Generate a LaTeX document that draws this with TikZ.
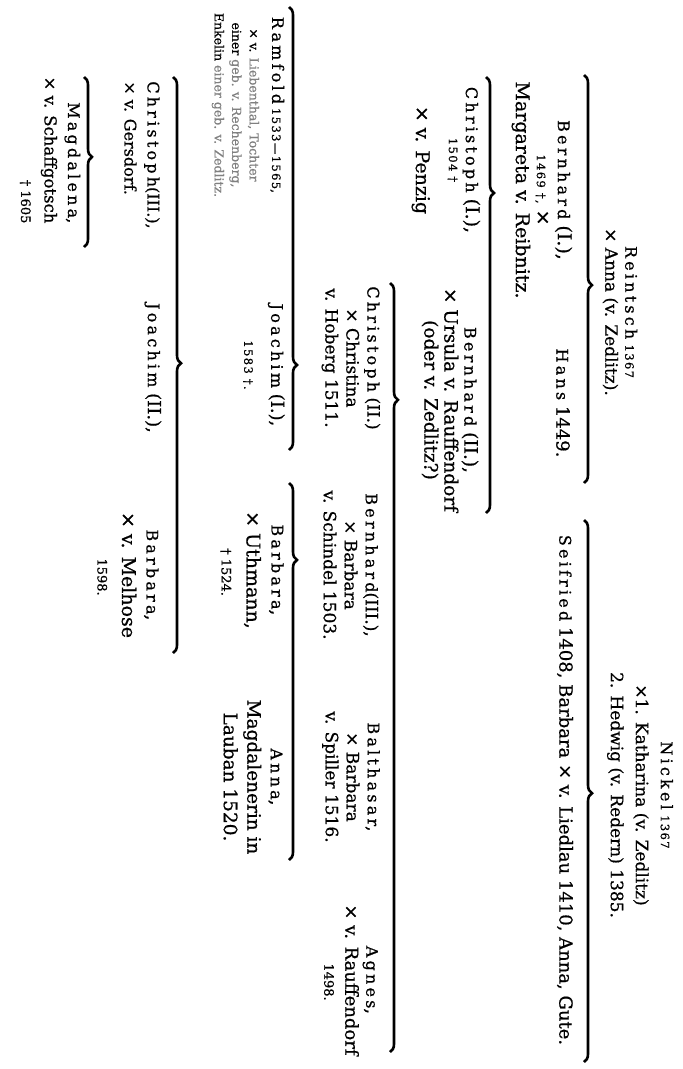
\documentclass[tikz,border=0pt]{standalone}
\usepackage{fontspec}
\setmainfont{DejaVu Serif}[FakeBold=0.7]
\usetikzlibrary{decorations.pathreplacing}
\newcommand\nmz{\fontsize{16}{21}\selectfont\addfontfeatures{LetterSpace=20}}
\newcommand\smz{\fontsize{11.5}{21}\selectfont\addfontfeatures{LetterSpace=12}}
\newcommand\fsz[1]{\fontsize{#1}{21}\selectfont}
\begin{document}
\begin{tikzpicture}[x=1pt,y=-1pt]
\tikzset{
  person/.style={rotate=-90, align=center, inner sep=0pt, font=\fontsize{18}{21}\selectfont},
  famb/.style={decorate, decoration={brace, amplitude=8pt, aspect=#1}, line width=2.6pt},
}
\useasboundingbox (0,0) rectangle (683,1069);
% generation 1
\node[person, font=\fontsize{17}{20}\selectfont] (reintsch) at (620,312) {{\nmz Reintsch} {\smz 1367}\\ × Anna (v. Zedlitz).};
\node[person, font=\fontsize{17}{25}\selectfont] (nickel) at (640,795) {{\nmz Nickel} {\smz 1367}\\ ×1. Katharina (v. Zedlitz)\\ 2. Hedwig (v. Redern) 1385.};
% generation 2
\node[person, font=\fontsize{19}{21}\selectfont] (bernhardI) at (542,190) {{\nmz Bernhard} (I.),\\ {\smz 1469 †,} ×\\ Margareta v. Reibnitz.};
\node[person] (hans) at (563,403) {{\nmz Hans} 1449.};
\node[person] (seifried) at (565,790) {{\nmz Seifried} 1408, Barbara × v. Liedlau 1410, Anna, Gute.};
% generation 3
\node[person, font=\fontsize{19}{17}\selectfont] (christophI) at (446,160) {{\nmz Christoph} (I.),\\ {\smz 1504 †}\\[16pt] × v. Penzig};
\node[person, font=\fontsize{18.5}{20}\selectfont] (bernhardII) at (450,400) {{\nmz Bernhard} (II.),\\ × Ursula v. Rauffendorf\\ (oder v. Zedlitz?)};
% generation 4
\node[person, font=\fontsize{17}{21}\selectfont] (christophII) at (351,358) {{\nmz Christoph} (II.)\\ × Christina\\ v. Hoberg 1511.};
\node[person, font=\fontsize{17}{21}\selectfont] (bernhardIII) at (351,565) {{\nmz Bernhard}(III.),\\ × Barbara\\ v. Schindel 1503.};
\node[person, font=\fontsize{17}{21}\selectfont] (balthasar) at (351,777) {{\nmz Balthasar},\\ × Barbara\\ v. Spiller 1516.};
\node[person, font=\fontsize{18}{21}\selectfont] (agnes) at (351,980) {{\nmz Agnes},\\ × v. Rauffendorf\\ {\fsz{13} 1498.}};
% generation 5
\node[person, font=\fontsize{12.5}{17.5}\selectfont] (ramfold) at (248,105) {{\nmz Ramfold} {\smz 1533—1565},\\[5pt] × v. \textcolor{gray}{Liebenthal, Tochter}\\ einer \textcolor{gray}{geb. v. Rechenberg,}\\ Enkelin \textcolor{gray}{einer geb. v. Zedlitz.}};
\node[person, font=\fontsize{18}{27}\selectfont] (joachimI) at (264,365) {{\nmz Joachim} (I.),\\ {\smz 1583 †.}};
\node[person, font=\fontsize{19}{25}\selectfont] (barbaraU) at (252,570) {{\nmz Barbara},\\ × Uthmann,\\ {\fsz{13} † 1524.}};
\node[person, font=\fontsize{18.5}{23.5}\selectfont] (anna) at (253,777) {{\nmz Anna},\\ Magdalenerin in\\ Lauban 1520.};
% generation 6
\node[person, align=left, font=\fontsize{16}{23}\selectfont] (christophIII) at (142,155) {{\nmz Christoph}(III.),\\ × v. Gersdorf.};
\node[person] (joachimII) at (153,368) {{\nmz Joachim} (II.),};
\node[person, font=\fontsize{19}{24.5}\selectfont] (barbaraM) at (128,575) {{\nmz Barbara},\\ × v. Melhose\\ {\fsz{13} 1598.}};
% generation 7
\node[person, align=right, font=\fontsize{16.5}{23.5}\selectfont] (magdalena) at (50,150) {{\nmz Magdalena},\\ × v. Schaffgotsch\\ {\fsz{13} † 1605}};
% braces
\coordinate (b1t) at (584,75);  \coordinate (b1b) at (584,483);
\coordinate (b2t) at (584,520); \coordinate (b2b) at (584,1062);
\coordinate (b3t) at (486,77);  \coordinate (b3b) at (486,513);
\coordinate (b4t) at (390,283); \coordinate (b4b) at (390,1052);
\coordinate (b5t) at (289,7);   \coordinate (b5b) at (289,450);
\coordinate (b6t) at (289,483); \coordinate (b6b) at (289,860);
\coordinate (b7t) at (173,77);  \coordinate (b7b) at (173,653);
\coordinate (b8t) at (84,77);   \coordinate (b8b) at (84,247);
\draw[famb=0.515] (b1t) -- (b1b);
\draw[famb=0.504] (b2t) -- (b2b);
\draw[famb=0.266] (b3t) -- (b3b);
\draw[famb=0.152] (b4t) -- (b4b);
\draw[famb=0.808] (b5t) -- (b5b);
\draw[famb=0.204] (b6t) -- (b6b);
\draw[famb=0.497] (b7t) -- (b7b);
\draw[famb=0.47]  (b8t) -- (b8b);
\end{tikzpicture}
\end{document}
